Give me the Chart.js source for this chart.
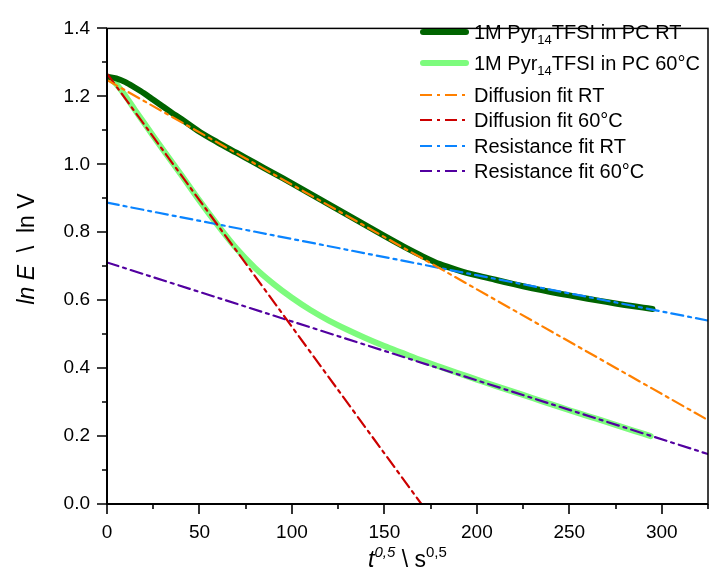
<!DOCTYPE html>
<html>
<head>
<meta charset="utf-8">
<script src="https://cdn.jsdelivr.net/npm/chart.js@4.4.0/dist/chart.umd.min.js"></script>
<style>
  body { margin: 0; background: #fff; }
  #wrap { width: 710px; height: 586px; }
</style>
</head>
<body>
<div id="wrap"><canvas id="myChart" width="710" height="586"></canvas></div>
<script>
// measured curves (t^0.5 in s^0.5, ln E in ln V)
const rtX = [0, 5, 10, 15, 20, 25, 30, 35, 40, 50, 60, 70, 80, 90, 100, 110, 120, 130, 140, 150, 160, 170, 180, 190, 200, 210, 220, 230, 240, 250, 260, 270, 280, 290, 295];
const rtY = [1.258, 1.253, 1.242, 1.226, 1.209, 1.190, 1.171, 1.152, 1.134, 1.096, 1.064, 1.034, 1.004, 0.974, 0.944, 0.913, 0.882, 0.851, 0.820, 0.789, 0.759, 0.731, 0.706, 0.688, 0.673, 0.660, 0.647, 0.635, 0.624, 0.614, 0.604, 0.595, 0.586, 0.578, 0.574];
const hotX = [0, 5, 10, 15, 20, 30, 40, 50, 60, 70, 80, 90, 100, 110, 120, 130, 140, 150, 160, 170, 180, 190, 200, 210, 220, 230, 240, 250, 260, 270, 280, 290, 294];
const hotY = [1.258, 1.236, 1.201, 1.161, 1.122, 1.045, 0.970, 0.893, 0.820, 0.752, 0.695, 0.648, 0.607, 0.571, 0.540, 0.513, 0.488, 0.465, 0.444, 0.423, 0.404, 0.385, 0.366, 0.348, 0.330, 0.312, 0.294, 0.276, 0.259, 0.242, 0.224, 0.207, 0.200];

// fit lines, end points
const diffRtX = [0, 325];
const diffRtY = [1.248, 0.247];
const diffHotX = [0, 170];
const diffHotY = [1.267, 0.0];
const resRtX = [0, 325];
const resRtY = [0.887, 0.540];
const resHotX = [0, 325];
const resHotY = [0.711, 0.147];

const xTicks = [0, 50, 100, 150, 200, 250, 300];
const xMinor = [25, 75, 125, 175, 225, 275, 325];
const yTicks = [0, 0.2, 0.4, 0.6, 0.8, 1.0, 1.2, 1.4];
const yMinor = [0.1, 0.3, 0.5, 0.7, 0.9, 1.1, 1.3];

const pts = (xs, ys) => xs.map((x, i) => ({ x: x, y: ys[i] }));
const dashDot = [12, 5, 3, 5];

const legendRows = [
    { i: 0, y: 32, parts: ['1M Pyr', '14', 'TFSI in PC RT'] },
    { i: 1, y: 63, parts: ['1M Pyr', '14', 'TFSI in PC 60°C'] },
    { i: 2, y: 95, parts: ['Diffusion fit RT'] },
    { i: 3, y: 120, parts: ['Diffusion fit 60°C'] },
    { i: 4, y: 146, parts: ['Resistance fit RT'] },
    { i: 5, y: 171, parts: ['Resistance fit 60°C'] }
];

const decor = {
    id: 'decor',
    afterDatasetsDraw(chart) {
        const c = chart.ctx, a = chart.chartArea;
        const xs = chart.scales.x, ys = chart.scales.y;
        c.save();
        c.strokeStyle = '#000';
        c.lineWidth = 1.5;
        c.strokeRect(a.left, a.top, a.right - a.left, a.bottom - a.top);
        c.lineWidth = 2;
        c.beginPath();
        c.moveTo(a.left, a.top); c.lineTo(a.left, a.bottom); c.lineTo(a.right, a.bottom);
        c.stroke();
        c.lineWidth = 1.6;
        c.beginPath();
        xTicks.forEach(v => { const p = Math.round(xs.getPixelForValue(v)); c.moveTo(p, a.bottom); c.lineTo(p, a.bottom + 10); });
        xMinor.forEach(v => { const p = Math.round(xs.getPixelForValue(v)); c.moveTo(p, a.bottom); c.lineTo(p, a.bottom + 5); });
        yTicks.forEach(v => { const p = Math.round(ys.getPixelForValue(v)); c.moveTo(a.left, p); c.lineTo(a.left - 10, p); });
        yMinor.forEach(v => { const p = Math.round(ys.getPixelForValue(v)); c.moveTo(a.left, p); c.lineTo(a.left - 5, p); });
        c.stroke();
        c.restore();
    },
    afterDraw(chart) {
        const c = chart.ctx, a = chart.chartArea;
        const f = 'Arial, "Liberation Sans", sans-serif';
        c.save();
        c.fillStyle = '#000';
        c.textBaseline = 'alphabetic';

        // legend
        legendRows.forEach(r => {
            const ds = chart.data.datasets[r.i];
            const thick = r.i < 2;
            c.save();
            c.strokeStyle = ds.borderColor;
            c.lineWidth = thick ? 6 : 2.2;
            c.lineCap = thick ? 'round' : 'butt';
            c.setLineDash(ds.borderDash || []);
            c.beginPath();
            c.moveTo(thick ? 423 : 420, r.y);
            c.lineTo(thick ? 466 : 469, r.y);
            c.stroke();
            c.restore();
            let x = 474;
            const base = r.y + 7;
            r.parts.forEach((t, k) => {
                const sub = r.parts.length > 1 && k === 1;
                c.font = (sub ? '13px ' : '20px ') + f;
                c.fillText(t, x, sub ? base + 5 : base);
                x += c.measureText(t).width;
            });
        });

        // x title: t^0,5 \ s^0,5
        const xt = [['italic 23px ', 't', 0], ['italic 15px ', '0,5', -10], ['23px ', ' \\ s', 0], ['15px ', '0,5', -10]];
        let w = 0;
        xt.forEach(p => { c.font = p[0] + f; w += c.measureText(p[1]).width; });
        let x = (a.left + a.right) / 2 - w / 2;
        xt.forEach(p => { c.font = p[0] + f; c.fillText(p[1], x, 567 + p[2]); x += c.measureText(p[1]).width; });

        // y title: ln E \ ln V
        const yt = [['italic 23px ', 'ln E'], ['23px ', '  \\  ln V']];
        c.translate(34, 249);
        c.rotate(-Math.PI / 2);
        w = 0;
        yt.forEach(p => { c.font = p[0] + f; w += c.measureText(p[1]).width; });
        x = -w / 2;
        yt.forEach(p => { c.font = p[0] + f; c.fillText(p[1], x, 0); x += c.measureText(p[1]).width; });
        c.restore();
    }
};

const ctx = document.getElementById('myChart');
const myChart = new Chart(ctx, {
    type: 'scatter',
    data: {
        datasets: [
            {
                label: '1M Pyr14TFSI in PC RT',
                data: pts(rtX, rtY),
                borderColor: '#006400',
                borderWidth: 6,
                order: 2
            },
            {
                label: '1M Pyr14TFSI in PC 60°C',
                data: pts(hotX, hotY),
                borderColor: '#7dfb7d',
                borderWidth: 6,
                order: 3
            },
            {
                label: 'Diffusion fit RT',
                data: pts(diffRtX, diffRtY),
                borderColor: '#ff8000',
                borderWidth: 2.2,
                borderDash: dashDot,
                order: 0
            },
            {
                label: 'Diffusion fit 60°C',
                data: pts(diffHotX, diffHotY),
                borderColor: '#cc0000',
                borderWidth: 2.2,
                borderDash: dashDot,
                order: 0
            },
            {
                label: 'Resistance fit RT',
                data: pts(resRtX, resRtY),
                borderColor: '#0a84ff',
                borderWidth: 2.2,
                borderDash: dashDot,
                order: 0
            },
            {
                label: 'Resistance fit 60°C',
                data: pts(resHotX, resHotY),
                borderColor: '#5200a0',
                borderWidth: 2.2,
                borderDash: dashDot,
                order: 0
            }
        ]
    },
    options: {
        responsive: false,
        animation: false,
        showLine: true,
        elements: {
            point: { radius: 0, hoverRadius: 0 },
            line: { tension: 0.3, borderCapStyle: 'round', borderJoinStyle: 'round' }
        },
        layout: { padding: { top: 17, right: 2, left: 0, bottom: 0 } },
        plugins: {
            legend: { display: false },
            tooltip: { enabled: false }
        },
        scales: {
            x: {
                type: 'linear',
                min: 0,
                max: 325,
                afterBuildTicks: s => { s.ticks = xTicks.map(v => ({ value: v })); },
                afterFit: s => { s.height = 82; },
                grid: { display: false, drawTicks: false },
                border: { display: false },
                ticks: { color: '#000', font: { size: 19, family: 'Arial, "Liberation Sans", sans-serif' }, padding: 17, maxRotation: 0 }
            },
            y: {
                min: 0,
                max: 1.4,
                afterBuildTicks: s => { s.ticks = yTicks.map(v => ({ value: v })); },
                afterFit: s => { s.width = 107; },
                grid: { display: false, drawTicks: false },
                border: { display: false },
                ticks: { color: '#000', font: { size: 19, family: 'Arial, "Liberation Sans", sans-serif' }, padding: 17, callback: v => v.toFixed(1) }
            }
        }
    },
    plugins: [decor]
});
</script>
</body>
</html>
